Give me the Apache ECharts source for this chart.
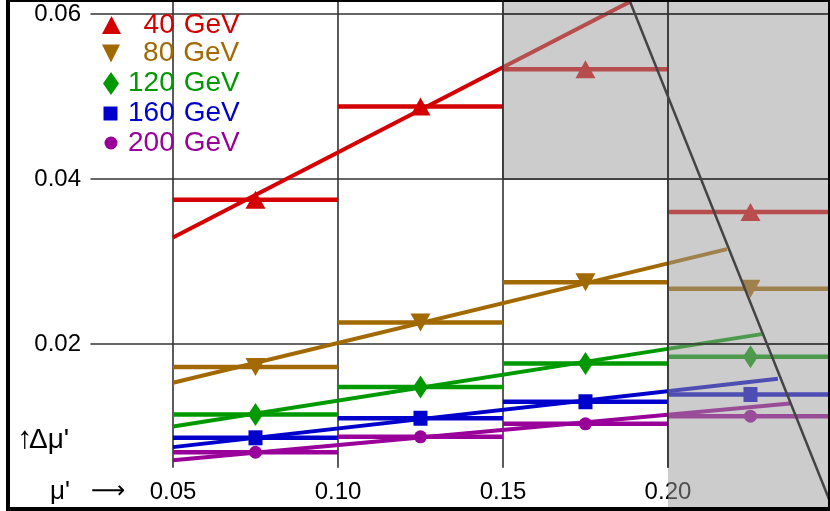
<!DOCTYPE html>
<html>
<head>
<meta charset="utf-8">
<script src="https://cdn.jsdelivr.net/npm/echarts@6/dist/echarts.min.js"></script>
<style>html,body{margin:0;padding:0;background:#fff;}#c{width:830px;height:511px;}</style>
</head>
<body>
<div id="c"></div>
<script>
// ---- data ----
const binEdges = [0.05, 0.10, 0.15, 0.20, 0.25];
const binCenters = [0.075, 0.125, 0.175, 0.225];
const names = ['40 GeV', '80 GeV', '120 GeV', '160 GeV', '200 GeV'];
const v40  = [0.0375, 0.0488, 0.0533, 0.0360];
const v80  = [0.0172, 0.0226, 0.0275, 0.0267];
const v120 = [0.01145, 0.0148, 0.01765, 0.01845];
const v160 = [0.00863, 0.0110, 0.0130, 0.01388];
const v200 = [0.00688, 0.00875, 0.01033, 0.01125];
const fit40  = [[0.05, 0.0329], [0.1885, 0.0615]];
const fit80  = [[0.05, 0.0153], [0.2179, 0.0315]];
const fit120 = [[0.05, 0.0100], [0.2284, 0.0212]];
const fit160 = [[0.05, 0.0075], [0.2333, 0.0158]];
const fit200 = [[0.05, 0.0059], [0.2370, 0.0128]];
const cutLine = [[0.188, 0.062], [0.25, 0.0]];
const xTickLabels = ['0.05', '0.10', '0.15', '0.20'];
const yTickLabels = ['0.02', '0.04', '0.06'];
const xMax = 0.2491, yMax = 0.0617;

// ---- styles ----
const colors = ['#d40000', '#a26900', '#009a00', '#0000cc', '#990099'];
const values = [v40, v80, v120, v160, v200];
const fits = [fit40, fit80, fit120, fit160, fit200];
const symbols = ['triangle', 'triangle', 'diamond', 'rect', 'circle'];
const symRot = [0, 180, 0, 0, 0];
const symSize = [[20, 18], [20, 18], [15, 23], [14, 15], [13, 13]];

function stepData(vals) {
  const d = [];
  vals.forEach((v, i) => {
    d.push([binEdges[i], v], [binEdges[i + 1], v]);
    if (i < vals.length - 1) d.push([binEdges[i + 1], '-']);
  });
  return d;
}

const series = [];
const gridStyle = {color: '#333', width: 1.6, type: 'solid'};
// grid lines (below data)
const gridLines = [];
yTickLabels.forEach(t => { const y = parseFloat(t); gridLines.push([{coord: [0.025, y]}, {coord: [xMax, y]}]); });
xTickLabels.forEach(t => { const x = parseFloat(t); gridLines.push([{coord: [x, 0.005]}, {coord: [x, yMax]}]); });
series.push({
  type: 'line', data: [], silent: true, z: 1,
  markLine: { z: 1, silent: true, symbol: 'none', label: {show: false},
    lineStyle: gridStyle, emphasis: {disabled: true}, data: gridLines }
});

names.forEach((nm, k) => {
  series.push({
    name: nm, type: 'line', data: stepData(values[k]), symbol: 'none', z: 2,
    lineStyle: {color: colors[k], width: 4.5}, itemStyle: {color: colors[k]}, connectNulls: false
  });
  series.push({
    name: nm, type: 'line', data: fits[k], symbol: 'none', z: 2,
    lineStyle: {color: colors[k], width: 4}, itemStyle: {color: colors[k]}
  });
  series.push({
    name: nm, type: 'scatter', z: 3,
    data: binCenters.map((x, i) => [x, values[k][i]]),
    symbol: symbols[k], symbolRotate: symRot[k], symbolSize: symSize[k],
    itemStyle: {color: colors[k], opacity: 1}
  });
});

// gray overlay
series.push({
  type: 'line', data: [], silent: true, z: 5,
  markArea: { z: 5, silent: true, itemStyle: {color: 'rgba(153,153,153,0.5)'},
    data: [
      [{coord: [0.15, 0.04]}, {coord: [0.20, yMax]}],
      [{coord: [0.20, 0]}, {coord: [xMax, yMax]}]
    ] }
});
// grid lines redrawn over the shaded region
series.push({
  type: 'line', data: [], silent: true, z: 6,
  markLine: { z: 6, silent: true, symbol: 'none', label: {show: false},
    lineStyle: gridStyle, emphasis: {disabled: true},
    data: [
      [{coord: [0.15, 0.06]}, {coord: [xMax, 0.06]}],
      [{coord: [0.15, 0.04]}, {coord: [xMax, 0.04]}],
      [{coord: [0.20, 0.02]}, {coord: [xMax, 0.02]}],
      [{coord: [0.15, 0.04]}, {coord: [0.15, yMax]}],
      [{coord: [0.20, 0.005]}, {coord: [0.20, yMax]}]
    ] }
});
// cut line
series.push({
  type: 'line', data: cutLine, symbol: 'none', z: 7, silent: true,
  lineStyle: {color: '#444', width: 2.5}
});

// legends
const legTop = [11, 39.5, 69.5, 99.5, 129];
const legIcon = ['triangle', 'path://M0,0L2,0L1,2Z', 'diamond', 'rect', 'circle'];
const legW = [19, 19, 16, 14, 13];
const legH = [18, 18, 23, 14, 13];
const legCx = [111.5, 111.5, 111, 110.5, 111];
const legends = names.map((nm, k) => {
  const left = legCx[k] - legW[k] / 2;
  const textStart = left + legW[k] + 5;
  const padL = Math.max(0, 128 - textStart);
  const num = nm.split(' ')[0];
  const pad = num.length < 3 ? '\u2007'.repeat(3 - num.length) : '';
  return {
    data: [{name: nm, icon: legIcon[k]}], orient: 'vertical',
    left: left, top: legTop[k], padding: 0,
    itemWidth: legW[k], itemHeight: legH[k], selectedMode: false,
    formatter: n => '{n|' + pad + num + '}{u|GeV}',
    textStyle: { color: colors[k], fontSize: 28, fontFamily: 'Liberation Sans', lineHeight: 28,
      rich: {
        n: {padding: [0, 0, 0, padL], color: colors[k], fontSize: 28, fontFamily: 'Liberation Sans', lineHeight: 28},
        u: {padding: [0, 0, 0, 9], color: colors[k], fontSize: 28, fontFamily: 'Liberation Sans', lineHeight: 28}
      } }
  };
});

const chart = echarts.init(document.getElementById('c'), null, {renderer: 'canvas'});
chart.setOption({
  animation: false,
  backgroundColor: '#fff',
  grid: {left: 8, right: 0, top: 0, bottom: 2, show: true, z: 10, outerBoundsMode: 'none',
    backgroundColor: 'transparent', borderColor: '#000', borderWidth: 4},
  legend: legends,
  xAxis: {
    type: 'value', min: 0, max: xMax, interval: 0.05,
    axisLine: {show: false}, axisTick: {show: false}, splitLine: {show: false},
    axisLabel: { inside: true, margin: 17, verticalAlign: 'middle', fontSize: 24,
      fontFamily: 'Liberation Sans', color: '#000', showMaxLabel: true,
      formatter: v => { const s = v.toFixed(2); return (xTickLabels.includes(s) && Math.abs(v - parseFloat(s)) < 1e-9) ? s : ''; } }
  },
  yAxis: {
    type: 'value', min: 0, max: yMax, interval: 0.02,
    axisLine: {show: false}, axisTick: {show: false}, splitLine: {show: false},
    axisLabel: { inside: true, margin: 73, align: 'right', fontSize: 24,
      fontFamily: 'Liberation Sans', color: '#000', showMaxLabel: true,
      formatter: v => { const s = v.toFixed(2); return (yTickLabels.includes(s) && Math.abs(v - parseFloat(s)) < 1e-9) ? s : ''; } }
  },
  graphic: [
    {type: 'text', left: 17, top: 424, z: 20, style: {text: '↑', font: '31px "Liberation Sans"', fill: '#000'}},
    {type: 'text', left: 29, top: 426, z: 20, style: {text: "Δμ'", font: '28px "Liberation Sans"', fill: '#000'}},
    {type: 'text', left: 50, top: 479, z: 20, style: {text: "μ'", font: '26px "Liberation Sans"', fill: '#000'}},
    {type: 'text', left: 91, top: 480, z: 20, style: {text: '⟶', font: '24px "DejaVu Sans"', fill: '#000'}}
  ],
  series: series
});
</script>
</body>
</html>
